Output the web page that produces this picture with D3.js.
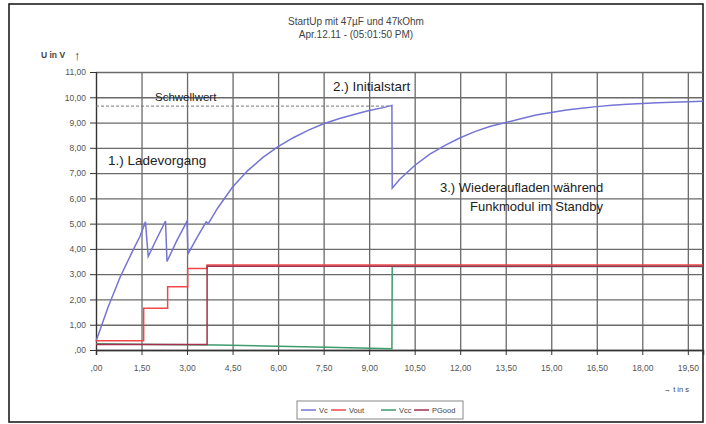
<!DOCTYPE html>
<html>
<head>
<meta charset="utf-8">
<script src="https://cdn.jsdelivr.net/npm/d3@7"></script>
<style>
  body { margin: 0; background: #fff; }
  svg { font-family: "Liberation Sans", Arial, sans-serif; }
  .grid line { stroke: #6a6a6a; stroke-width: 1.3; }
  .grid path { display: none; }
  .axis text { fill: #555; font-size: 8.5px; }
  .axis line, .axis path { stroke: #333; }
  .note { fill: #222; }
</style>
</head>
<body>
<div id="chart"></div>
<script>
'use strict'

// ---- data ----
const titleLines = ['StartUp mit 47µF und 47kOhm', 'Apr.12.11 - (05:01:50 PM)']
const seriesNames = ['Vc', 'Vout', 'Vcc', 'PGood']
const seriesColors = ['#7474d6', '#f04848', '#3d9b6c', '#a3304c']

const xTicks = [0, 1.5, 3, 4.5, 6, 7.5, 9, 10.5, 12, 13.5, 15, 16.5, 18, 19.5]
const yTicks = [0, 1, 2, 3, 4, 5, 6, 7, 8, 9, 10, 11]

// Vc: capacitor voltage [t in s, U in V]
const vc = [
    [0, 0.35], [0.4, 1.7], [0.8, 2.9], [1.2, 3.9], [1.45, 4.5], [1.63, 5.07],
    [1.72, 3.7], [2.0, 4.4], [2.29, 5.1], [2.34, 3.5], [2.65, 4.3], [3.0, 5.1],
    [3.03, 3.8], [3.35, 4.5], [3.63, 5.07], [3.7, 5.0], [4.0, 5.6], [4.5, 6.45],
    [5.0, 7.1], [5.5, 7.62], [6.0, 8.05], [6.5, 8.4], [7.0, 8.7], [7.5, 8.95],
    [8.0, 9.15], [8.5, 9.32], [9.0, 9.48], [9.5, 9.6], [9.75, 9.68], [9.76, 6.4],
    [10.0, 6.75], [10.5, 7.3], [11.0, 7.75], [11.5, 8.1], [12.0, 8.4], [12.5, 8.65],
    [13.0, 8.85], [13.5, 9.0], [14.0, 9.15], [14.5, 9.3], [15.0, 9.4], [15.5, 9.5],
    [16.0, 9.57], [16.5, 9.63], [17.0, 9.68], [17.5, 9.72], [18.0, 9.75], [18.5, 9.78],
    [19.0, 9.8], [19.5, 9.82], [20.0, 9.84]
]
// Vout: stepped output
const vout = [
    [0, 0.37], [1.57, 0.37], [1.57, 1.65], [2.36, 1.65], [2.36, 2.5], [3.02, 2.5],
    [3.02, 3.22], [3.66, 3.22], [3.66, 3.36], [20, 3.36]
]
// Vcc
const vcc = [
    [0, 0.25], [2, 0.22], [4, 0.2], [6, 0.15], [8, 0.1], [9.75, 0.05], [9.76, 3.3], [20, 3.3]
]
// PGood
const pgood = [
    [0, 0.22], [3.66, 0.22], [3.66, 3.31], [20, 3.31]
]
const seriesData = [vc, vout, vcc, pgood]

const threshold = 9.65
const thresholdEnd = 9.75

function chart(selector = '#chart') {

    const svgWidth = 706
    const svgHeight = 424

    const margin = { left: 96, right: 3, top: 72, bottom: 74 }
    const width = svgWidth - margin.left - margin.right
    const height = svgHeight - margin.top - margin.bottom

    const svg = d3.select(selector)
        .append('svg')
        .attr('width', svgWidth)
        .attr('height', svgHeight)

    // outer frame
    svg.append('rect')
        .attr('x', 9).attr('y', 4)
        .attr('width', 694).attr('height', 418)
        .attr('fill', 'none')
        .attr('stroke', '#111')
        .attr('stroke-width', 1.5)

    // title
    svg.append('g').selectAll('text')
        .data(titleLines)
        .join('text')
        .attr('x', 356)
        .attr('y', (d, i) => 25 + i * 12.5)
        .attr('text-anchor', 'middle')
        .attr('font-size', 10)
        .attr('fill', '#444')
        .text(d => d)

    const g = svg.append('g')
        .attr('transform', `translate(${margin.left},${margin.top})`)

    // scales
    const xScale = d3.scaleLinear().domain([0, 20]).range([0, width])
    const yScale = d3.scaleLinear().domain([0, 11]).range([height, 0])

    const de = d3.formatLocale({ decimal: ',', thousands: '.', grouping: [3], currency: ['', '€'] })
    const f2 = de.format('.2f')
    const fmt = v => v === 0 ? ',00' : f2(v)

    // gridlines
    g.append('g')
        .attr('class', 'grid')
        .attr('transform', `translate(0,${height})`)
        .call(d3.axisBottom(xScale).tickValues(xTicks).tickSizeInner(-height).tickSizeOuter(0).tickFormat(''))
    g.append('g')
        .attr('class', 'grid')
        .call(d3.axisLeft(yScale).tickValues(yTicks).tickSizeInner(-width).tickSizeOuter(0).tickFormat(''))

    // axes
    g.append('g')
        .attr('class', 'axis')
        .attr('transform', `translate(0,${height})`)
        .call(d3.axisBottom(xScale).tickValues(xTicks).tickSize(5).tickPadding(10).tickFormat(fmt))
        .call(a => a.select('.domain').attr('stroke-width', 1.5))
    g.append('g')
        .attr('class', 'axis')
        .call(d3.axisLeft(yScale).tickValues(yTicks).tickSize(6).tickPadding(4).tickFormat(fmt))
        .call(a => a.select('.domain').attr('stroke-width', 1.2))

    // axis titles
    svg.append('text')
        .attr('x', 41).attr('y', 58)
        .attr('font-size', 8.5).attr('font-weight', 'bold').attr('fill', '#444')
        .text('U in V')
    svg.append('text')
        .attr('x', 74).attr('y', 60)
        .attr('font-size', 13).attr('fill', '#333')
        .text('↑')
    svg.append('text')
        .attr('x', 689).attr('y', 392)
        .attr('text-anchor', 'end')
        .attr('font-size', 7.5).attr('fill', '#444')
        .text('→ t in s')

    // threshold line
    g.append('line')
        .attr('x1', xScale(0)).attr('x2', xScale(thresholdEnd))
        .attr('y1', yScale(threshold)).attr('y2', yScale(threshold))
        .attr('stroke', '#777')
        .attr('stroke-dasharray', '3,2')

    // series
    const line = d3.line()
        .x(d => xScale(d[0]))
        .y(d => yScale(d[1]))

    g.append('g').selectAll('path')
        .data(seriesData)
        .join('path')
        .attr('d', d => line(d))
        .attr('fill', 'none')
        .attr('stroke', (d, i) => seriesColors[i])
        .attr('stroke-width', 1.5)

    // annotations
    const notes = [
        { t: 'Schwellwert', x: 155, y: 101, s: 11.5 },
        { t: '2.) Initialstart', x: 333, y: 91, s: 13.5 },
        { t: '1.) Ladevorgang', x: 108, y: 165, s: 13.5 },
        { t: '3.) Wiederaufladen während', x: 440, y: 192, s: 13 },
        { t: 'Funkmodul im Standby', x: 470, y: 211, s: 13 }
    ]
    svg.append('g').selectAll('text')
        .data(notes)
        .join('text')
        .attr('class', 'note')
        .attr('x', d => d.x)
        .attr('y', d => d.y)
        .style('font-size', d => d.s + 'px')
        .text(d => d.t)

    // legend
    const lg = svg.append('g').attr('transform', 'translate(297,401)')
    lg.append('rect')
        .attr('width', 166).attr('height', 18)
        .attr('fill', '#fff')
        .attr('stroke', '#888')
    const itemX = [4, 34, 84, 117]
    const items = lg.selectAll('.item')
        .data(seriesNames)
        .join('g')
        .attr('class', 'item')
        .attr('transform', (d, i) => `translate(${itemX[i]},9)`)
    items.append('line')
        .attr('x1', 0).attr('x2', 15)
        .attr('stroke', (d, i) => seriesColors[i])
        .attr('stroke-width', 1.5)
    items.append('text')
        .attr('x', 18).attr('y', 3)
        .attr('font-size', 7.5).attr('fill', '#444')
        .text(d => d)
}

chart()
</script>
</body>
</html>
